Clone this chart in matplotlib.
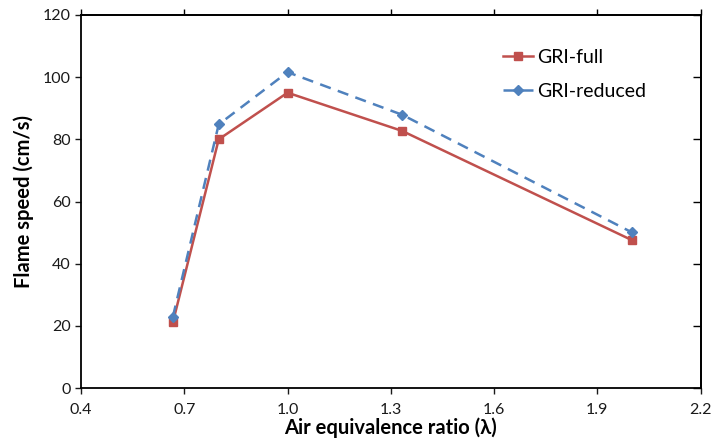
import matplotlib
matplotlib.use("Agg")
import matplotlib.pyplot as plt

# air equivalence ratio and flame speeds (cm/s)
lam = [0.667, 0.8, 1.0, 1.333, 2.0]
gri_full = [21.2, 80.0, 95.0, 82.7, 47.6]
gri_reduced = [23.0, 84.8, 101.6, 87.9, 50.1]

x_ticks = [0.4, 0.7, 1.0, 1.3, 1.6, 1.9, 2.2]
y_ticks = [0, 20, 40, 60, 80, 100, 120]

red = "#C0504D"
blue = "#4F81BD"

plt.rcParams["font.family"] = ["Lato", "DejaVu Sans"]

fig = plt.figure(figsize=(7.12, 4.4), dpi=100)
ax = fig.add_axes([0.1138, 0.118, 0.8702, 0.848])

ax.plot(lam, gri_full, color=red, lw=1.8, marker="s", ms=5.5, label="GRI-full")
ax.plot(lam, gri_reduced, color=blue, lw=1.8, ls=(0, (4.5, 3)), marker="D", ms=5.5,
        label="GRI-reduced")

ax.set_xlim(0.4, 2.2)
ax.set_ylim(0, 120)
ax.set_xticks(x_ticks)
ax.set_xticklabels([f"{v:.1f}" for v in x_ticks])
ax.set_yticks(y_ticks)
ax.tick_params(direction="out", length=4, width=1, labelsize=11.5, colors="#1a1a1a")
ax.tick_params(axis="x", pad=7)

for s in ax.spines.values():
    s.set_linewidth(1.3)

# top ticks point out, right ticks point in (like the Excel original)
top = ax.secondary_xaxis("top")
top.set_xticks(x_ticks)
top.tick_params(direction="out", length=4, width=1, labeltop=False)
right = ax.secondary_yaxis("right")
right.set_yticks(y_ticks)
right.tick_params(direction="in", length=6, width=1, labelright=False)
top.spines["top"].set_linewidth(1.3)
right.spines["right"].set_linewidth(1.3)

ax.set_xlabel("Air equivalence ratio (\u03bb)", fontsize=14.5, fontweight="bold", labelpad=0)
ax.set_ylabel("Flame speed (cm/s)", fontsize=14.5, fontweight="bold", labelpad=6)

ax.legend(loc="upper left", bbox_to_anchor=(503 / 712, 1 - 49 / 440),
          bbox_transform=fig.transFigure, frameon=False, fontsize=14,
          borderpad=0, borderaxespad=0, handlelength=1.55, handletextpad=0.2,
          labelspacing=0.85)

fig.savefig("out.png", dpi=100)
